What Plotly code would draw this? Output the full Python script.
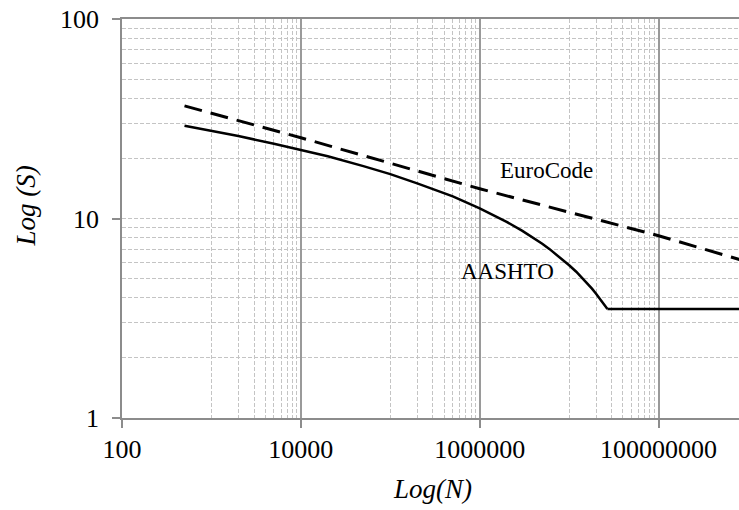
import plotly.graph_objects as go

# ---- data ----
euro_N = [500, 1e4, 1e6, 1e8, 1e9]
euro_S = [36.7, 25.4, 14.1, 8.2, 6.05]

aashto_N = [500, 1000, 2000, 5000, 1e4, 2e4, 5e4, 1e5, 2e5, 5e5,
            1e6, 1.5e6, 2e6, 3e6, 4e6, 5e6, 6e6, 7e6, 8e6, 1e7,
            1.2e7, 1.4e7, 1.6e7, 1.8e7, 2e7, 2.2e7, 2.4e7, 2.6e7, 2.68e7]
aashto_S = [29.2, 27.5, 25.9, 23.7, 22.1, 20.5, 18.3, 16.7, 15.0, 12.9,
            11.25, 10.3, 9.62, 8.67, 7.99, 7.47, 7.04, 6.67, 6.36, 5.83,
            5.41, 5.04, 4.73, 4.45, 4.20, 3.98, 3.77, 3.58, 3.52]

threshold_N = [2.68e7, 1e9]
threshold_S = [3.52, 3.52]

x_ticks = [100, 10000, 1000000, 100000000]
x_tick_text = ["100", "10000", "1000000", "100000000"]
x_minor = [k * 10 ** e for e in (3, 5, 7) for k in range(1, 10)]
y_ticks = [1, 10, 100]
y_tick_text = ["1", "10", "100"]
y_minor = [k * 10 ** e for e in (0, 1) for k in range(1, 10)][1:]

FONT = "Liberation Serif, Times New Roman, serif"

fig = go.Figure()
fig.add_trace(go.Scatter(x=euro_N, y=euro_S, mode="lines", name="EuroCode",
                         line=dict(color="black", width=3, dash="18px,9px")))
fig.add_trace(go.Scatter(x=aashto_N, y=aashto_S, mode="lines", name="AASHTO",
                         line=dict(color="black", width=2.5)))
fig.add_trace(go.Scatter(x=threshold_N, y=threshold_S, mode="lines", name="AASHTO threshold",
                         line=dict(color="black", width=2.5)))

x_lo = 2
x_hi = 2 + (739 - 122) / 89.43

fig.update_layout(
    width=739, height=510,
    margin=dict(l=122, r=0, t=19, b=92),
    paper_bgcolor="white", plot_bgcolor="white",
    showlegend=False,
    font=dict(family=FONT, color="black", size=26),
    xaxis=dict(
        type="log", range=[x_lo, x_hi],
        tickmode="array", tickvals=x_ticks, ticktext=x_tick_text,
        ticks="outside", ticklen=8, tickwidth=1.5, tickcolor="#8c8c8c",
        showline=True, linecolor="#8c8c8c", linewidth=1.5, mirror=True,
        showgrid=True, gridcolor="#9a9a9a", gridwidth=1.5,
        ticklabelstandoff=-1,
        tickfont=dict(family=FONT, size=26, color="black"),
        minor=dict(tickmode="array", tickvals=x_minor, showgrid=True,
                   gridcolor="#c4c4c4", gridwidth=1, griddash="4px,2px", ticks=""),
        zeroline=False,
    ),
    yaxis=dict(
        type="log", range=[0, 2],
        tickmode="array", tickvals=y_ticks, ticktext=y_tick_text,
        ticks="outside", ticklen=8, tickwidth=1.5, tickcolor="#8c8c8c",
        showline=True, linecolor="#8c8c8c", linewidth=1.5,
        showgrid=False,
        ticklabelstandoff=8,
        tickfont=dict(family=FONT, size=26, color="black"),
        minor=dict(tickmode="array", tickvals=y_minor, showgrid=True,
                   gridcolor="#c4c4c4", gridwidth=1, griddash="4px,2px", ticks=""),
        zeroline=False,
    ),
    annotations=[
        dict(text="EuroCode", x=6.745, y=1.24, xref="x", yref="y", showarrow=False,
             font=dict(family=FONT, size=23, color="black"), xanchor="center", yanchor="middle"),
        dict(text="AASHTO", x=6.308, y=0.732, xref="x", yref="y", showarrow=False,
             font=dict(family=FONT, size=23, color="black"), xanchor="center", yanchor="middle"),
        dict(text="<i>Log(N)</i>", x=0.504, y=-0.178, xref="paper", yref="paper", showarrow=False,
             font=dict(family=FONT, size=27, color="black"), xanchor="center", yanchor="middle"),
        dict(text="<i>Log (S)</i>", x=-0.155, y=0.531, xref="paper", yref="paper", showarrow=False,
             textangle=-90,
             font=dict(family=FONT, size=27, color="black"), xanchor="center", yanchor="middle"),
    ],
)

fig.write_html("out.html")
